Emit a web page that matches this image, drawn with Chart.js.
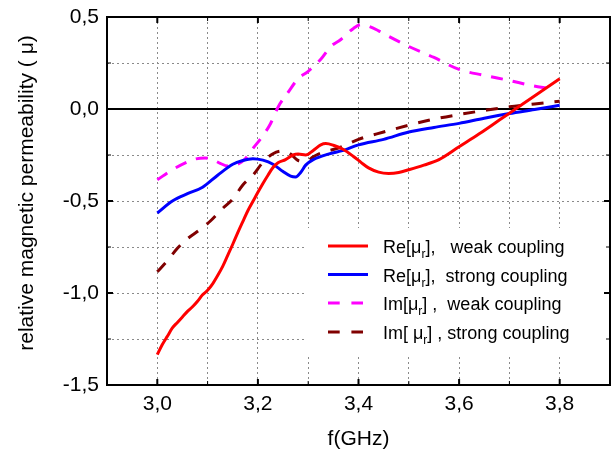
<!DOCTYPE html>
<html><head><meta charset="utf-8">
<script src="https://cdn.jsdelivr.net/npm/chart.js@4.4.0/dist/chart.umd.min.js"></script>
<style>html,body{margin:0;padding:0;background:#fff;}canvas{display:block;}</style>
</head><body>
<canvas id="c" width="611" height="452"></canvas>
<script>
// ---- data ----
const reWeakF = [3.000,3.010,3.020,3.030,3.040,3.050,3.060,3.070,3.080,3.090,3.100,3.110,3.120,3.130,3.140,3.150,3.160,3.170,3.180,3.190,3.200,3.210,3.220,3.230,3.240,3.255,3.270,3.280,3.295,3.310,3.325,3.335,3.350,3.370,3.390,3.405,3.420,3.440,3.460,3.480,3.500,3.530,3.560,3.600,3.640,3.680,3.720,3.760,3.800];
const reWeakV = [-1.335,-1.28,-1.235,-1.19,-1.16,-1.13,-1.10,-1.075,-1.045,-1.01,-0.985,-0.95,-0.905,-0.855,-0.795,-0.735,-0.672,-0.612,-0.553,-0.503,-0.453,-0.405,-0.36,-0.318,-0.292,-0.275,-0.25,-0.245,-0.25,-0.225,-0.195,-0.188,-0.197,-0.22,-0.258,-0.29,-0.32,-0.343,-0.35,-0.345,-0.33,-0.305,-0.275,-0.205,-0.135,-0.06,0.015,0.09,0.165];

const reStrongF = [3.00,3.03,3.06,3.09,3.12,3.15,3.17,3.19,3.21,3.23,3.25,3.265,3.275,3.285,3.295,3.31,3.34,3.37,3.40,3.45,3.50,3.55,3.60,3.65,3.70,3.75,3.80];
const reStrongV = [-0.565,-0.50,-0.46,-0.425,-0.36,-0.30,-0.28,-0.27,-0.278,-0.30,-0.34,-0.365,-0.37,-0.345,-0.305,-0.275,-0.245,-0.225,-0.195,-0.165,-0.125,-0.10,-0.078,-0.05,-0.025,-0.003,0.02];

const imWeakF = [3.000,3.030,3.058,3.075,3.095,3.110,3.125,3.140,3.160,3.175,3.190,3.210,3.225,3.240,3.260,3.280,3.300,3.325,3.345,3.365,3.390,3.405,3.420,3.440,3.460,3.500,3.550,3.600,3.650,3.700,3.740,3.780];
const imWeakV = [-0.385,-0.33,-0.29,-0.272,-0.266,-0.275,-0.295,-0.31,-0.30,-0.27,-0.215,-0.145,-0.08,0.01,0.09,0.165,0.205,0.27,0.34,0.378,0.438,0.458,0.45,0.425,0.395,0.34,0.28,0.215,0.183,0.155,0.13,0.11];

const imStrongF = [3.000,3.020,3.040,3.060,3.085,3.105,3.130,3.150,3.170,3.190,3.210,3.230,3.250,3.265,3.280,3.295,3.310,3.325,3.360,3.400,3.450,3.500,3.550,3.600,3.650,3.700,3.750,3.800];
const imStrongV = [-0.885,-0.825,-0.757,-0.705,-0.655,-0.61,-0.54,-0.49,-0.413,-0.36,-0.29,-0.243,-0.228,-0.245,-0.28,-0.285,-0.26,-0.24,-0.212,-0.165,-0.125,-0.088,-0.055,-0.03,-0.008,0.012,0.027,0.042];

const xTickValues = [3.0, 3.2, 3.4, 3.6, 3.8];
const xTickLabels = ['3,0', '3,2', '3,4', '3,6', '3,8'];
const yTickValues = [-1.5, -1.0, -0.5, 0.0, 0.5];
const yTickLabels = ['-1,5', '-1,0', '-0,5', '0,0', '0,5'];

const xTitle = 'f(GHz)';
const yTitle = 'relative magnetic permeability ( \u03bc)';

// legend text pieces: [text, isSubscript]
const legendTexts = [
  [['Re[\u03bc', 0], ['r', 1], ['],   weak coupling', 0]],
  [['Re[\u03bc', 0], ['r', 1], ['],  strong coupling', 0]],
  [['Im[\u03bc', 0], ['r', 1], ['] ,  weak coupling', 0]],
  [['Im[ \u03bc', 0], ['r', 1], ['] , strong coupling', 0]]
];

// ---- styles ----
const FONT = "'Liberation Sans', Arial, Helvetica, sans-serif";
const colors = ['#ff0000', '#0000ff', '#ff00ff', '#800000'];
const dashes = [[], [], [12, 10], [12, 11]];

function pts(fs, vs) { return fs.map((f, i) => ({x: f, y: vs[i]})); }
function labelFor(v, vals, labs) {
  for (let i = 0; i < vals.length; i++) if (Math.abs(v - vals[i]) < 1e-6) return labs[i];
  return '';
}
function zeroPad(s) { s.paddingLeft = 0; s.paddingRight = 0; s.paddingTop = 0; s.paddingBottom = 0; }

const decor = {
  id: 'decor',
  beforeDatasetsDraw(chart) {
    const {ctx, chartArea: a, scales: {x, y}} = chart;
    ctx.save();
    // legend background
    ctx.fillStyle = '#fff';
    ctx.fillRect(a.left + 198, a.top + 211, a.right - (a.left + 198), 127);
    // zero line
    const y0 = y.getPixelForValue(0);
    ctx.strokeStyle = '#000';
    ctx.lineWidth = 2;
    ctx.beginPath(); ctx.moveTo(a.left, y0); ctx.lineTo(a.right, y0); ctx.stroke();
    // inward ticks
    x.ticks.forEach(t => {
      const px = x.getPixelForValue(t.value);
      const major = xTickValues.some(v => Math.abs(v - t.value) < 1e-6);
      const len = major ? 6 : 4;
      ctx.lineWidth = major ? 2 : 1;
      ctx.beginPath();
      ctx.moveTo(px, a.top); ctx.lineTo(px, a.top + len);
      ctx.moveTo(px, a.bottom); ctx.lineTo(px, a.bottom - len);
      ctx.stroke();
    });
    y.ticks.forEach(t => {
      const py = y.getPixelForValue(t.value);
      const major = yTickValues.some(v => Math.abs(v - t.value) < 1e-6);
      const len = major ? 6 : 4;
      ctx.lineWidth = major ? 2 : 1;
      ctx.beginPath();
      ctx.moveTo(a.left, py); ctx.lineTo(a.left + len, py);
      ctx.moveTo(a.right, py); ctx.lineTo(a.right - len, py);
      ctx.stroke();
    });
    // frame
    ctx.lineWidth = 2;
    ctx.strokeRect(a.left, a.top, a.right - a.left, a.bottom - a.top);
    ctx.restore();
  },
  afterDatasetsDraw(chart) {
    const {ctx, chartArea: a} = chart;
    ctx.save();
    const x0 = a.left + 221, x1 = a.left + 261, tx = a.left + 276;
    const rowY = [a.top + 229, a.top + 257.5, a.top + 286, a.top + 315];
    legendTexts.forEach((parts, i) => {
      const yy = rowY[i];
      ctx.strokeStyle = colors[i];
      ctx.lineWidth = 3;
      ctx.setLineDash(i >= 2 ? [11.7, 11.7] : []);
      ctx.beginPath(); ctx.moveTo(x0, yy); ctx.lineTo(i >= 2 ? x1 - 5 : x1, yy); ctx.stroke();
      ctx.setLineDash([]);
      ctx.fillStyle = '#000';
      ctx.textBaseline = 'alphabetic';
      ctx.textAlign = 'left';
      let cx = tx;
      parts.forEach(([txt, sub]) => {
        ctx.font = (sub ? '12px ' : '18px ') + FONT;
        ctx.fillText(txt, cx, yy + (sub ? 12 : 7));
        cx += ctx.measureText(txt).width;
      });
    });
    // y-axis title
    ctx.translate(27.6, a.top + 176);
    ctx.rotate(-Math.PI / 2);
    ctx.font = '21px ' + FONT;
    ctx.textAlign = 'center';
    ctx.textBaseline = 'middle';
    ctx.fillStyle = '#000';
    ctx.fillText(yTitle, 0, 0);
    ctx.restore();
  }
};

new Chart(document.getElementById('c'), {
  type: 'line',
  data: {
    datasets: [
      {label: 'Re weak', data: pts(reWeakF, reWeakV)},
      {label: 'Re strong', data: pts(reStrongF, reStrongV)},
      {label: 'Im weak', data: pts(imWeakF, imWeakV)},
      {label: 'Im strong', data: pts(imStrongF, imStrongV)}
    ].map((d, i) => Object.assign(d, {
      borderColor: colors[i], borderWidth: 3, borderDash: dashes[i],
      pointRadius: 0, fill: false, cubicInterpolationMode: 'monotone'
    }))
  },
  options: {
    responsive: false, animation: false, devicePixelRatio: 1,
    layout: {padding: {left: 11, right: 1, top: 17, bottom: 0}},
    plugins: {legend: {display: false}, tooltip: {enabled: false}},
    scales: {
      x: {
        type: 'linear', min: 2.9, max: 3.9,
        afterFit(s) { s.height = 67; zeroPad(s); },
        border: {display: false, dash: [2, 3]},
        grid: {color: '#8a8a8a', lineWidth: 1, drawTicks: false},
        ticks: {stepSize: 0.1, autoSkip: false, maxRotation: 0, padding: 7, color: '#000',
          font: {family: FONT, size: 21},
          callback: v => labelFor(v, xTickValues, xTickLabels)},
        title: {display: true, text: xTitle, color: '#000', font: {family: FONT, size: 21}, padding: {top: 0, bottom: 0}}
      },
      y: {
        min: -1.5, max: 0.5,
        afterFit(s) { s.width = 96; zeroPad(s); },
        border: {display: false, dash: [2, 3]},
        grid: {color: '#8a8a8a', lineWidth: 1, drawTicks: false},
        ticks: {stepSize: 0.25, autoSkip: false, padding: 8, color: '#000',
          font: {family: FONT, size: 21},
          callback: v => labelFor(v, yTickValues, yTickLabels)},
        title: {display: false}
      }
    }
  },
  plugins: [decor]
});
</script>
</body></html>
